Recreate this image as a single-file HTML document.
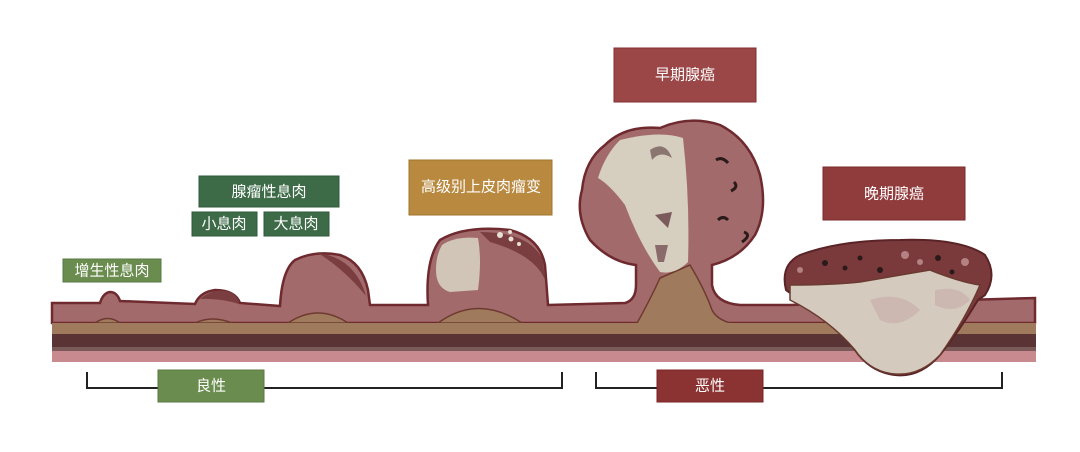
<!DOCTYPE html>
<html><head><meta charset="utf-8"><style>
html,body{margin:0;padding:0;background:#fff;width:1080px;height:452px;overflow:hidden}
svg{display:block}
text{font-family:"Liberation Sans","Noto Sans CJK SC",sans-serif;fill:#fff;text-anchor:middle;dominant-baseline:central}
</style></head><body>
<svg width="1080" height="452" viewBox="0 0 1080 452" xmlns="http://www.w3.org/2000/svg">
<!-- bottom layers -->
<rect x="52" y="350" width="984" height="12" fill="#c98a8f"/>
<rect x="52" y="346" width="984" height="5" fill="#7a5a58"/>
<rect x="52" y="333" width="984" height="14" fill="#5a3434"/>
<rect x="52" y="322" width="984" height="12" fill="#a07a5c"/>
<!-- mucosa with polyps -->
<path d="M52,303 L100,303 Q103,293 110,292 Q117,292 120,301 L195,304 Q200,292 215,290 Q235,290 240,303 L280,306 Q282,270 295,260 Q315,250 340,255 Q362,262 368,290 L370,305 L428,305 Q425,260 440,240 Q465,225 510,230 Q540,238 545,265 L548,305 L625,303 Q636,300 636,285 L636,265 Q610,262 590,240 Q575,215 582,190 Q585,160 605,145 Q625,125 660,128 Q690,115 720,125 Q750,140 760,175 Q768,210 755,235 Q740,258 712,265 L712,285 Q715,303 740,305 L790,305 L1035,298 L1035,323 L52,323 Z" fill="#a36a6c" stroke="#6e2a2e" stroke-width="2.5"/>
<!-- brown domes -->
<g fill="#a07a5c" stroke="#6e3a30" stroke-width="1.5">
<path d="M95,323 Q108,314 120,323 Z"/>
<path d="M195,323 Q212,315 232,323 Z"/>
<path d="M288,323 Q318,303 348,323 Z"/>
<path d="M438,323 Q478,294 522,323 Z"/>
<path d="M636,325 Q650,300 660,278 L690,265 Q705,290 712,310 Q718,322 740,325 Z"/>
</g>
<rect x="52" y="323" width="984" height="10" fill="#a07a5c"/>
<!-- small polyp cap -->
<path d="M200,299 Q212,289 226,291 Q238,294 239,304 Q220,298 200,299 Z" fill="#7a3e40"/>
<!-- large polyp cap -->
<path d="M318,253 Q355,258 366,296 Q345,270 318,253 Z" fill="#7a3e40"/>
<!-- HGD polyp -->
<path d="M480,232 Q530,232 543,260 L545,280 Q535,255 490,242 Z" fill="#7a3e40"/>
<path d="M442,245 Q455,236 478,238 Q482,260 478,290 L450,292 Q436,288 436,270 Q436,255 442,245 Z" fill="#d0c5b7"/>
<circle cx="500" cy="235" r="3" fill="#e8e0d4"/><circle cx="511" cy="239" r="2.5" fill="#e8e0d4"/><circle cx="519" cy="244" r="2" fill="#e8e0d4"/><circle cx="510" cy="232" r="2" fill="#e8e0d4"/>
<!-- early cancer light patch -->
<path d="M620,140 Q660,130 683,138 Q690,200 688,262 Q675,275 660,272 Q640,245 625,205 Q610,185 598,178 Q605,155 620,140 Z" fill="#d6cebf"/>
<path d="M655,215 L672,212 L668,228 Z" fill="#7a5a5a"/>
<path d="M655,245 L668,245 L664,262 L658,262 Z" fill="#8a6a6a"/>
<path d="M650,150 Q665,140 672,158 Q660,150 652,160 Z" fill="#8a7570"/>
<path d="M716,160 q6,-4 12,3 M734,182 q5,5 -3,9 M718,220 q5,-5 10,0 M744,232 q8,3 -2,10" stroke="#2a1a1a" stroke-width="3" fill="none"/>
<!-- late cancer -->
<path d="M786,290 Q780,265 800,255 Q840,240 900,240 Q960,238 985,255 Q998,275 985,295 L978,300 Q960,330 940,355 Q920,378 895,375 Q870,372 855,350 Q830,320 800,300 Z" fill="#7a3a3c" stroke="#5a2426" stroke-width="2"/>
<path d="M790,285 Q830,285 860,282 Q900,275 930,270 Q960,282 980,285 Q965,320 940,355 Q920,376 895,374 Q870,372 855,350 Q830,320 790,300 Z" fill="#d4cabd" stroke="#6a3a30" stroke-width="1.5"/>
<path d="M870,300 q30,-10 50,10 q-20,20 -40,10 Z" fill="#c9b0ad" opacity=".7"/>
<path d="M935,290 q25,-5 35,10 q-15,15 -35,5 Z" fill="#c9b0ad" opacity=".7"/>
<g fill="#2a1a1a"><circle cx="825" cy="263" r="3"/><circle cx="845" cy="268" r="2.5"/><circle cx="860" cy="258" r="2.5"/><circle cx="880" cy="270" r="3"/><circle cx="938" cy="258" r="3"/><circle cx="952" cy="272" r="2.5"/></g>
<g fill="#b48282"><circle cx="905" cy="255" r="4"/><circle cx="920" cy="262" r="3"/><circle cx="965" cy="262" r="4"/><circle cx="800" cy="270" r="3"/></g>
<!-- labels -->
<rect x="63" y="259" width="98" height="23" fill="#6a8c4e" stroke="#5a7a42"/><text x="112" y="271" font-size="15">增生性息肉</text>
<rect x="199" y="176" width="140" height="31" fill="#3d6b48" stroke="#2f5a3a"/><text x="269" y="192" font-size="15">腺瘤性息肉</text>
<rect x="192" y="212" width="65" height="24" fill="#3d6b48" stroke="#2f5a3a"/><text x="224" y="224" font-size="15">小息肉</text>
<rect x="264" y="212" width="65" height="24" fill="#3d6b48" stroke="#2f5a3a"/><text x="296" y="224" font-size="15">大息肉</text>
<rect x="409" y="160" width="143" height="55" fill="#b8893f" stroke="#a0752e"/><text x="481" y="187" font-size="15">高级别上皮肉瘤变</text>
<rect x="614" y="48" width="142" height="54" fill="#9b4747" stroke="#852f2f"/><text x="685" y="75" font-size="15">早期腺癌</text>
<rect x="823" y="167" width="142" height="53" fill="#913c3c" stroke="#7a2a2a"/><text x="894" y="194" font-size="15">晚期腺癌</text>
<!-- brackets -->
<path d="M87,372 V388 H562 V372" fill="none" stroke="#222" stroke-width="2"/>
<path d="M596,372 V388 H1002 V372" fill="none" stroke="#222" stroke-width="2"/>
<rect x="158" y="370" width="106" height="32" fill="#6a8c4e" stroke="#5a7a42"/><text x="211" y="386" font-size="15">良性</text>
<rect x="657" y="370" width="106" height="32" fill="#8b3232" stroke="#7a2424"/><text x="710" y="386" font-size="15">恶性</text>
</svg>
</body></html>
